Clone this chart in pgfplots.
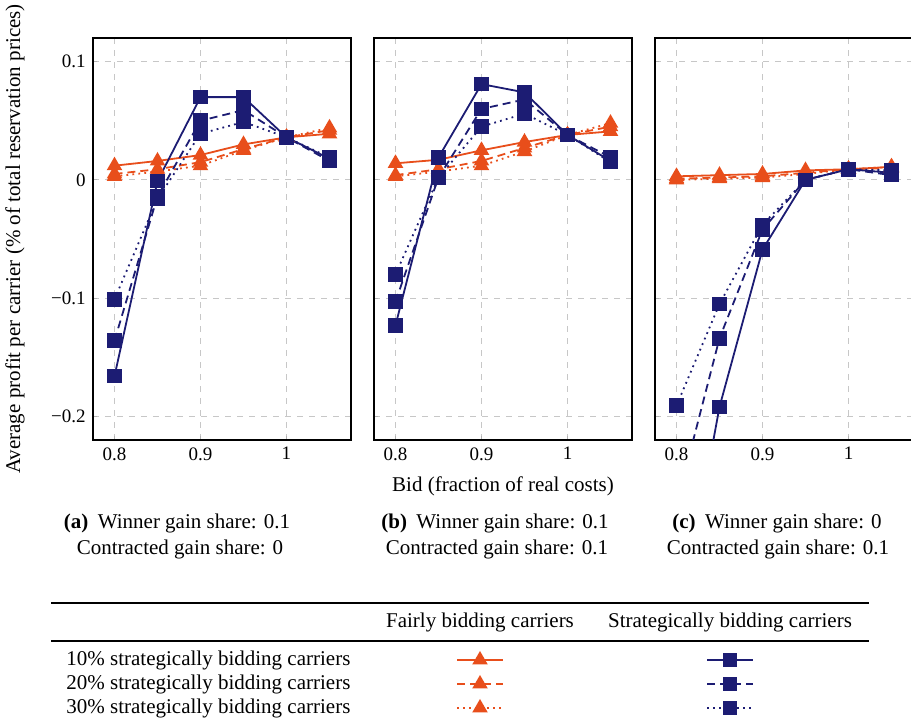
\documentclass[border=0pt]{standalone}
\usepackage{fontspec}
\setmainfont{Liberation Serif}
\usepackage{pgfplots}
\pgfplotsset{compat=1.18}
\definecolor{cOr}{RGB}{232,78,27}
\definecolor{cNv}{RGB}{28,28,115}
\pgfplotsset{
 panel/.style={
  scale only axis, width=129pt, height=201pt,
  xmin=0.775, xmax=1.075, ymin=-0.22, ymax=0.12,
  xtick={0.8,0.9,1}, xticklabels={0.8,0.9,1},
  ytick={-0.2,-0.1,0,0.1},
  grid=major, major grid style={dash pattern=on 3pt off 3pt, color=black!22, line width=0.5pt},
  major tick length=2pt, tick style={black!30, line width=0.5pt},
  tick align=inside, xtick pos=left, ytick pos=left,
  ticklabel style={font=\fontsize{9.5}{11}\selectfont},
  axis line style={line width=0.6pt},
  anchor=south west,
 },
 fair/.style={cOr, line width=0.9pt, mark=triangle*, mark size=3.6pt, mark options={solid}},
 strat/.style={cNv, line width=0.9pt, mark=square*, mark size=3.2pt, mark options={solid}},
 dsh/.style={dash pattern=on 4pt off 2.5pt},
 dtt/.style={dash pattern=on 0.9pt off 2.1pt},
}
\begin{document}
\fontsize{10.5}{12.6}\selectfont
\begin{tikzpicture}
\useasboundingbox (0,0) rectangle (455.5pt,-363pt);
% ---------- panel (a)
\begin{axis}[panel, at={(46.5pt,-220pt)},
  yticklabels={−0.2,−0.1,0,0.1},
  ylabel={Average profit per carrier (\% of total reservation prices)},
  ylabel style={at={(axis description cs:-0.302,0.5)}, anchor=center}]
\addplot[fair] coordinates {(0.8,0.012)(0.85,0.016)(0.9,0.021)(0.95,0.030)(1,0.036)(1.05,0.039)};
\addplot[fair,dsh] coordinates {(0.8,0.005)(0.85,0.009)(0.9,0.015)(0.95,0.026)(1,0.036)(1.05,0.042)};
\addplot[fair,dtt] coordinates {(0.8,0.003)(0.85,0.007)(0.9,0.012)(0.95,0.025)(1,0.036)(1.05,0.044)};
\addplot[strat] coordinates {(0.8,-0.166)(0.85,-0.001)(0.9,0.070)(0.95,0.070)(1,0.036)(1.05,0.018)};
\addplot[strat,dsh] coordinates {(0.8,-0.136)(0.85,-0.014)(0.9,0.050)(0.95,0.059)(1,0.036)(1.05,0.016)};
\addplot[strat,dtt] coordinates {(0.8,-0.101)(0.85,-0.016)(0.9,0.039)(0.95,0.049)(1,0.036)(1.05,0.019)};
\end{axis}
% ---------- panel (b)
\begin{axis}[panel, at={(187pt,-220pt)}, yticklabels={},
  xlabel={Bid (fraction of real costs)},
  xlabel style={at={(axis description cs:0.5,-0.1144)}, anchor=center}]
\addplot[fair] coordinates {(0.8,0.014)(0.85,0.017)(0.9,0.025)(0.95,0.032)(1,0.038)(1.05,0.041)};
\addplot[fair,dsh] coordinates {(0.8,0.004)(0.85,0.009)(0.9,0.016)(0.95,0.027)(1,0.038)(1.05,0.045)};
\addplot[fair,dtt] coordinates {(0.8,0.003)(0.85,0.007)(0.9,0.012)(0.95,0.024)(1,0.038)(1.05,0.048)};
\addplot[strat] coordinates {(0.8,-0.123)(0.85,0.019)(0.9,0.081)(0.95,0.074)(1,0.038)(1.05,0.016)};
\addplot[strat,dsh] coordinates {(0.8,-0.103)(0.85,0.002)(0.9,0.060)(0.95,0.068)(1,0.038)(1.05,0.019)};
\addplot[strat,dtt] coordinates {(0.8,-0.080)(0.85,0.002)(0.9,0.045)(0.95,0.056)(1,0.038)(1.05,0.015)};
\end{axis}
% ---------- panel (c)
\begin{axis}[panel, at={(327.5pt,-220pt)}, yticklabels={}]
\addplot[fair] coordinates {(0.8,0.003)(0.85,0.004)(0.9,0.005)(0.95,0.008)(1,0.009)(1.05,0.011)};
\addplot[fair,dsh] coordinates {(0.8,0.001)(0.85,0.002)(0.9,0.003)(0.95,0.006)(1,0.009)(1.05,0.010)};
\addplot[fair,dtt] coordinates {(0.8,0.0)(0.85,0.001)(0.9,0.002)(0.95,0.005)(1,0.009)(1.05,0.011)};
\addplot[strat] coordinates {(0.8,-0.39)(0.85,-0.192)(0.9,-0.059)(0.95,0.0)(1,0.009)(1.05,0.006)};
\addplot[strat,dsh] coordinates {(0.8,-0.275)(0.85,-0.134)(0.9,-0.042)(0.95,0.0)(1,0.009)(1.05,0.004)};
\addplot[strat,dtt] coordinates {(0.8,-0.191)(0.85,-0.105)(0.9,-0.038)(0.95,0.0)(1,0.009)(1.05,0.008)};
\end{axis}
% ---------- overlay: captions and legend table (pixel coordinates)
\begin{axis}[scale only axis, width=455.5pt, height=363pt, at={(0pt,0pt)}, anchor=north west,
  xmin=0, xmax=911, ymin=-726, ymax=0, hide axis, clip=false]
\node at (axis cs:177,-523) {\textbf{(a)}\hspace{0.45em}Winner gain share: 0.1};
\node at (axis cs:180,-549) {Contracted gain share: 0};
\node at (axis cs:495,-523) {\textbf{(b)}\hspace{0.45em}Winner gain share: 0.1};
\node at (axis cs:497,-549) {Contracted gain share: 0.1};
\node at (axis cs:777,-523) {\textbf{(c)}\hspace{0.45em}Winner gain share: 0};
\node at (axis cs:778,-549) {Contracted gain share: 0.1};
\draw[line width=1pt] (axis cs:51,-603) -- (axis cs:869,-603);
\draw[line width=0.6pt] (axis cs:51,-641) -- (axis cs:869,-641);
\node at (axis cs:480,-622) {Fairly bidding carriers};
\node at (axis cs:730,-622) {Strategically bidding carriers};
\node[anchor=west, inner sep=0pt] at (axis cs:66,-660) {10\% strategically bidding carriers};
\node[anchor=west, inner sep=0pt] at (axis cs:66,-684) {20\% strategically bidding carriers};
\node[anchor=west, inner sep=0pt] at (axis cs:66,-708) {30\% strategically bidding carriers};
\addplot[fair, mark indices={2}] coordinates {(457,-660)(480,-660)(503,-660)};
\addplot[fair, dsh, mark indices={2}] coordinates {(457,-684)(480,-684)(503,-684)};
\addplot[fair, dtt, mark indices={2}] coordinates {(457,-708)(480,-708)(503,-708)};
\addplot[strat, mark indices={2}] coordinates {(707,-660)(730,-660)(753,-660)};
\addplot[strat, dsh, mark indices={2}] coordinates {(707,-684)(730,-684)(753,-684)};
\addplot[strat, dtt, mark indices={2}] coordinates {(707,-708)(730,-708)(753,-708)};
\end{axis}
\end{tikzpicture}
\end{document}
